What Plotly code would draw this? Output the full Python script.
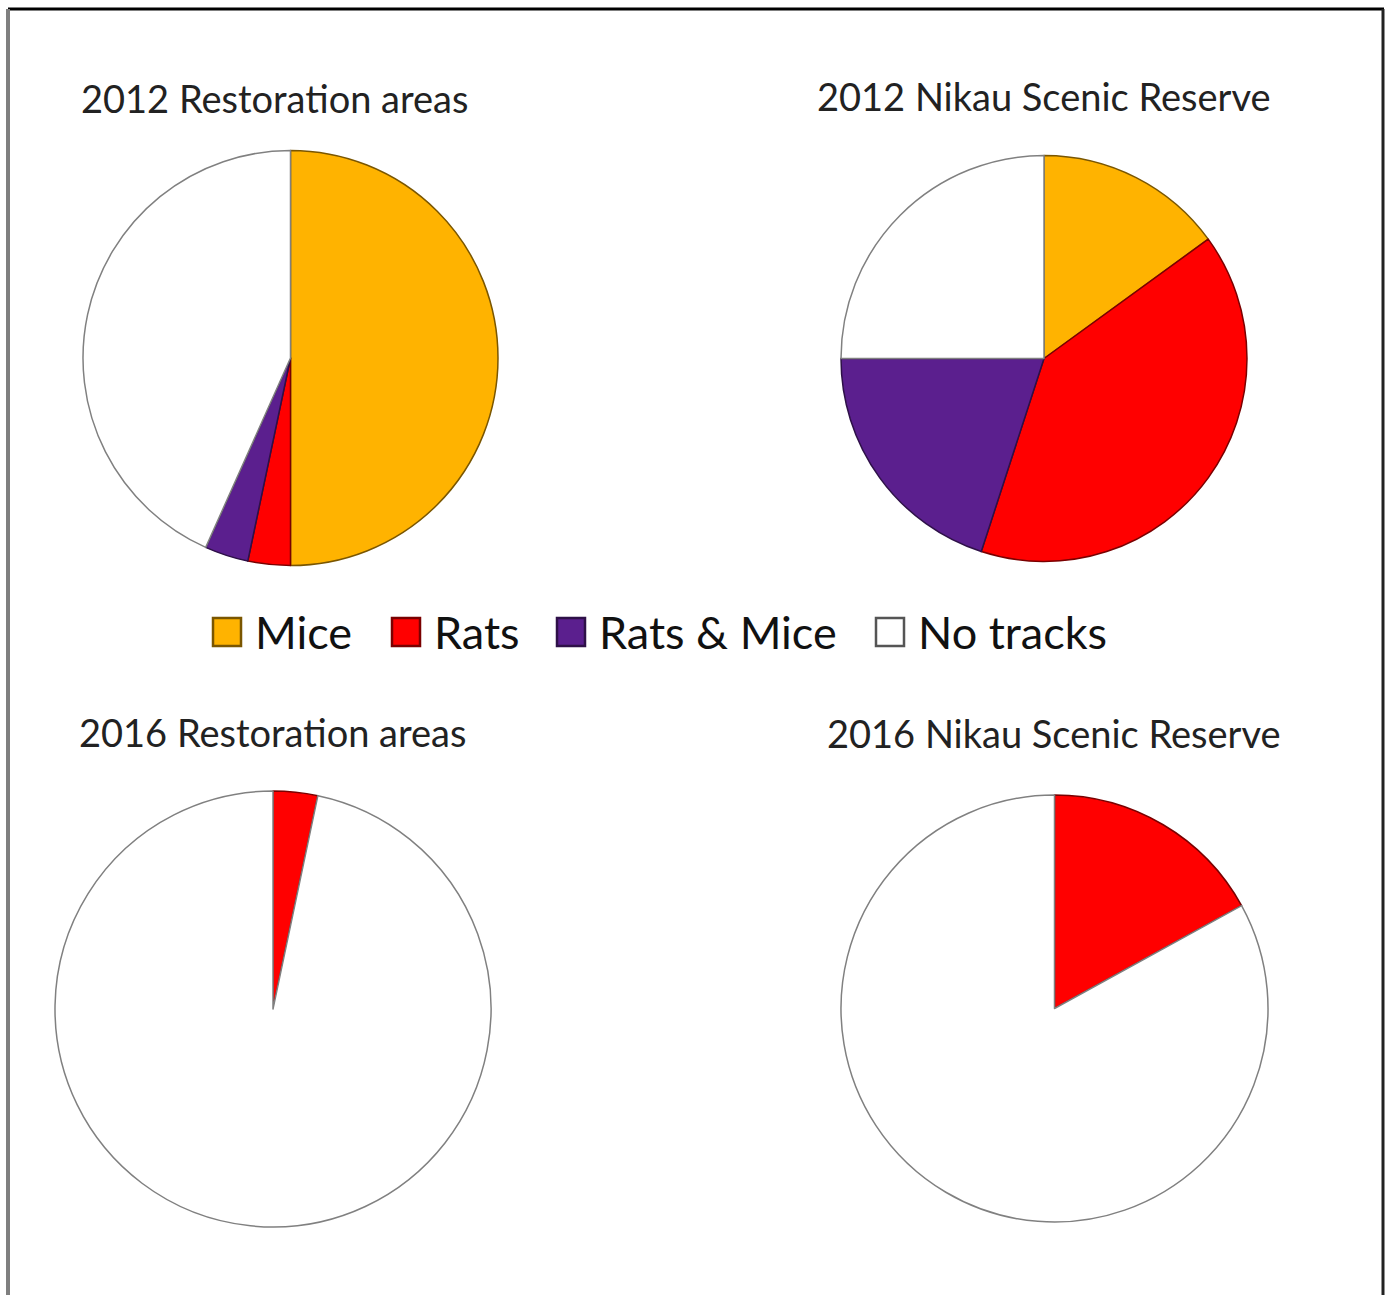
import plotly.graph_objects as go

W, H = 1389, 1295

categories = ["Mice", "Rats", "Rats & Mice", "No tracks"]
panel_titles = ["2012 Restoration areas", "2012 Nikau Scenic Reserve",
                "2016 Restoration areas", "2016 Nikau Scenic Reserve"]
mice = [50.0, 15.0, 0.0, 0.0]
rats = [3.3, 40.0, 3.3, 17.0]
rats_mice = [3.4, 20.0, 0.0, 0.0]
no_tracks = [43.3, 25.0, 96.7, 83.0]

fill_colors = ["#FFB300", "#FF0000", "#5B1F8E", "#FFFFFF"]
edge_colors = ["#7a5600", "#7a0000", "#2e1048", "#808080"]

# pie placement in pixels: centre x, centre y, radius
pie_geom = [(290.5, 358, 207.5), (1044, 358.5, 203), (273, 1009, 218), (1054.5, 1008.5, 213.5)]
title_pos = [(274, 98), (1044, 96), (272, 732), (1054, 733)]

def px(x):
    return x / W

def py(y):
    return 1 - y / H

fig = go.Figure()
series = [mice, rats, rats_mice, no_tracks]
for i, (cx, cy, r) in enumerate(pie_geom):
    vals = [s[i] for s in series]
    labs = [c for c, v in zip(categories, vals) if v > 0]
    cols = [fc for fc, v in zip(fill_colors, vals) if v > 0]
    lcols = [ec for ec, v in zip(edge_colors, vals) if v > 0]
    vv = [v for v in vals if v > 0]
    fig.add_trace(go.Pie(
        labels=labs, values=vv, sort=False, direction="clockwise", rotation=0,
        marker=dict(colors=cols, line=dict(color=lcols, width=1.5)),
        textinfo="none", hoverinfo="label+percent", showlegend=False,
        domain=dict(x=[px(cx - r), px(cx + r)], y=[py(cy + r), py(cy - r)]),
    ))

annotations = []
for t, (tx, ty) in zip(panel_titles, title_pos):
    annotations.append(dict(text=t, x=px(tx), y=py(ty), xref="paper", yref="paper",
                            xanchor="center", yanchor="middle", showarrow=False,
                            font=dict(family="Lato", size=38, color="#222222")))

# legend (manual, to match the large square swatches)
legend_sq_x = [213, 392, 557, 876]
legend_y = 632
shapes = []
for name, fc, ec, sx in zip(categories, fill_colors, edge_colors, legend_sq_x):
    shapes.append(dict(type="rect", xref="paper", yref="paper",
                       x0=px(sx), x1=px(sx + 28), y0=py(legend_y + 14), y1=py(legend_y - 14),
                       fillcolor=fc, line=dict(color=ec if name != "No tracks" else "#555555", width=2.5)))
    annotations.append(dict(text=name, x=px(sx + 40), y=py(legend_y), xref="paper", yref="paper",
                            xanchor="left", yanchor="middle", showarrow=False,
                            font=dict(family="Lato", size=45, color="#111111")))

# outer frame
shapes.append(dict(type="line", xref="paper", yref="paper", x0=px(8), x1=px(1384), y0=py(9), y1=py(9),
                   line=dict(color="#000000", width=3)))
shapes.append(dict(type="line", xref="paper", yref="paper", x0=px(8), x1=px(8), y0=py(9), y1=py(1300),
                   line=dict(color="#7f7f7f", width=4)))
shapes.append(dict(type="line", xref="paper", yref="paper", x0=px(1383), x1=px(1383), y0=py(9), y1=py(1300),
                   line=dict(color="#222222", width=3)))

fig.update_layout(width=W, height=H, margin=dict(l=0, r=0, t=0, b=0),
                  paper_bgcolor="white", plot_bgcolor="white",
                  annotations=annotations, shapes=shapes, showlegend=False)

fig.write_html("out.html", config={"displayModeBar": False},
               post_script="document.body.style.margin='0';document.body.style.overflow='hidden';")
